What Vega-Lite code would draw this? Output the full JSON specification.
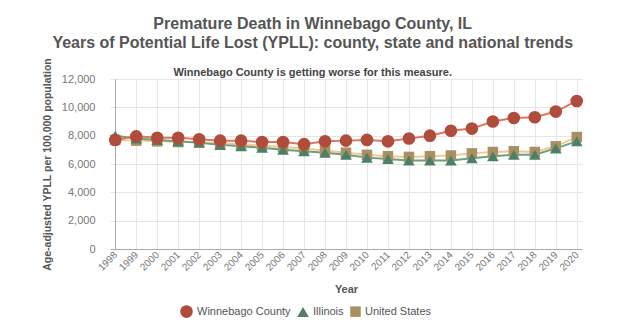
{
  "$schema": "https://vega.github.io/schema/vega-lite/v6.json",
  "width": 472,
  "height": 170,
  "autosize": {"type": "none"},
  "padding": {"left": 110, "top": 79, "right": 42, "bottom": 82},
  "background": "white",
  "config": {"font": "Liberation Sans", "view": {"stroke": null}},
  "title": {
    "text": ["Premature Death in Winnebago County, IL", "Years of Potential Life Lost (YPLL): county, state and national trends"],
    "subtitle": "Winnebago County is getting worse for this measure.",
    "frame": "bounds",
    "anchor": "middle",
    "fontSize": 16,
    "fontWeight": "bold",
    "color": "#555555",
    "lineHeight": 19,
    "subtitleFontSize": 11,
    "subtitleFontWeight": "bold",
    "subtitleColor": "#444444",
    "subtitlePadding": 16,
    "offset": -20
  },
  "data": {
    "values": [
      {"year": "1998", "series": "United States", "value": 7700},
      {"year": "1999", "series": "United States", "value": 7650},
      {"year": "2000", "series": "United States", "value": 7600},
      {"year": "2001", "series": "United States", "value": 7550},
      {"year": "2002", "series": "United States", "value": 7550},
      {"year": "2003", "series": "United States", "value": 7450},
      {"year": "2004", "series": "United States", "value": 7400},
      {"year": "2005", "series": "United States", "value": 7300},
      {"year": "2006", "series": "United States", "value": 7200},
      {"year": "2007", "series": "United States", "value": 7100},
      {"year": "2008", "series": "United States", "value": 6950},
      {"year": "2009", "series": "United States", "value": 6800},
      {"year": "2010", "series": "United States", "value": 6650},
      {"year": "2011", "series": "United States", "value": 6550},
      {"year": "2012", "series": "United States", "value": 6500},
      {"year": "2013", "series": "United States", "value": 6550},
      {"year": "2014", "series": "United States", "value": 6600},
      {"year": "2015", "series": "United States", "value": 6750},
      {"year": "2016", "series": "United States", "value": 6850},
      {"year": "2017", "series": "United States", "value": 6900},
      {"year": "2018", "series": "United States", "value": 6850},
      {"year": "2019", "series": "United States", "value": 7250},
      {"year": "2020", "series": "United States", "value": 7900},
      {"year": "1998", "series": "Illinois", "value": 8000},
      {"year": "1999", "series": "Illinois", "value": 7800},
      {"year": "2000", "series": "Illinois", "value": 7700},
      {"year": "2001", "series": "Illinois", "value": 7600},
      {"year": "2002", "series": "Illinois", "value": 7500},
      {"year": "2003", "series": "Illinois", "value": 7350},
      {"year": "2004", "series": "Illinois", "value": 7250},
      {"year": "2005", "series": "Illinois", "value": 7150},
      {"year": "2006", "series": "Illinois", "value": 7000},
      {"year": "2007", "series": "Illinois", "value": 6900},
      {"year": "2008", "series": "Illinois", "value": 6800},
      {"year": "2009", "series": "Illinois", "value": 6650},
      {"year": "2010", "series": "Illinois", "value": 6450},
      {"year": "2011", "series": "Illinois", "value": 6350},
      {"year": "2012", "series": "Illinois", "value": 6250},
      {"year": "2013", "series": "Illinois", "value": 6250},
      {"year": "2014", "series": "Illinois", "value": 6250},
      {"year": "2015", "series": "Illinois", "value": 6400},
      {"year": "2016", "series": "Illinois", "value": 6550},
      {"year": "2017", "series": "Illinois", "value": 6650},
      {"year": "2018", "series": "Illinois", "value": 6650},
      {"year": "2019", "series": "Illinois", "value": 7100},
      {"year": "2020", "series": "Illinois", "value": 7600},
      {"year": "1998", "series": "Winnebago County", "value": 7700},
      {"year": "1999", "series": "Winnebago County", "value": 7950},
      {"year": "2000", "series": "Winnebago County", "value": 7850},
      {"year": "2001", "series": "Winnebago County", "value": 7850},
      {"year": "2002", "series": "Winnebago County", "value": 7750},
      {"year": "2003", "series": "Winnebago County", "value": 7650},
      {"year": "2004", "series": "Winnebago County", "value": 7650},
      {"year": "2005", "series": "Winnebago County", "value": 7550},
      {"year": "2006", "series": "Winnebago County", "value": 7550},
      {"year": "2007", "series": "Winnebago County", "value": 7400},
      {"year": "2008", "series": "Winnebago County", "value": 7600},
      {"year": "2009", "series": "Winnebago County", "value": 7650},
      {"year": "2010", "series": "Winnebago County", "value": 7700},
      {"year": "2011", "series": "Winnebago County", "value": 7600},
      {"year": "2012", "series": "Winnebago County", "value": 7800},
      {"year": "2013", "series": "Winnebago County", "value": 8000},
      {"year": "2014", "series": "Winnebago County", "value": 8350},
      {"year": "2015", "series": "Winnebago County", "value": 8500},
      {"year": "2016", "series": "Winnebago County", "value": 9000},
      {"year": "2017", "series": "Winnebago County", "value": 9250},
      {"year": "2018", "series": "Winnebago County", "value": 9300},
      {"year": "2019", "series": "Winnebago County", "value": 9700},
      {"year": "2020", "series": "Winnebago County", "value": 10450}
    ]
  },
  "encoding": {
    "x": {
      "field": "year",
      "type": "ordinal",
      "scale": {"type": "point", "padding": 0.25},
      "axis": {
        "title": "Year",
        "titleFontSize": 11,
        "titleFontWeight": "bold",
        "titleColor": "#555555",
        "titlePadding": 11,
        "labelAngle": -45,
        "labelAlign": "right",
        "labelBaseline": "middle",
        "labelFontSize": 10,
        "labelColor": "#777777",
        "labelPadding": 4,
        "grid": true,
        "gridColor": "#e6e6e6",
        "domainColor": "#aaaaaa",
        "ticks": false
      }
    },
    "y": {
      "field": "value",
      "type": "quantitative",
      "scale": {"domain": [0, 12000]},
      "axis": {
        "title": "Age-adjusted YPLL per 100,000 population",
        "titleFontSize": 10.5,
        "titleFontWeight": "bold",
        "titleColor": "#555555",
        "titlePadding": 9,
        "values": [0, 2000, 4000, 6000, 8000, 10000, 12000],
        "format": ",d",
        "labelFontSize": 11,
        "labelColor": "#777777",
        "labelPadding": 20,
        "offset": -5,
        "grid": true,
        "gridColor": "#e6e6e6",
        "domainColor": "#aaaaaa",
        "ticks": false
      }
    }
  },
  "layer": [
    {
      "mark": {"type": "line", "strokeWidth": 2},
      "encoding": {
        "stroke": {
          "field": "series",
          "type": "nominal",
          "scale": {"domain": ["Winnebago County", "Illinois", "United States"], "range": ["#e2735c", "#64a283", "#f5c98e"]}
        }
      }
    },
    {
      "mark": {"type": "point", "filled": true, "opacity": 1},
      "encoding": {
        "fill": {
          "field": "series",
          "type": "nominal",
          "scale": {"domain": ["Winnebago County", "Illinois", "United States"], "range": ["#b04c3c", "#4d8066", "#a98f62"]},
          "legend": {
            "title": null,
            "orient": "none",
            "legendX": 70,
            "legendY": 226,
            "direction": "horizontal",
            "labelFontSize": 11,
            "labelColor": "#555555",
            "columnPadding": 6,
            "symbolStrokeWidth": 0
          }
        },
        "shape": {
          "field": "series",
          "type": "nominal",
          "scale": {"domain": ["Winnebago County", "Illinois", "United States"], "range": ["circle", "triangle-up", "square"]}
        },
        "size": {
          "field": "series",
          "type": "nominal",
          "scale": {"domain": ["Winnebago County", "Illinois", "United States"], "range": [160, 110, 95]}
        }
      }
    }
  ]
}
